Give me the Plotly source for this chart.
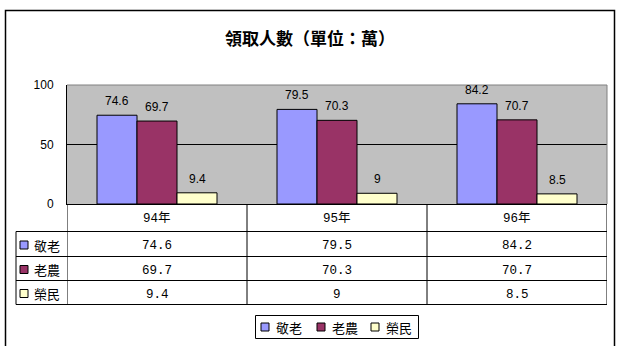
import plotly.graph_objects as go

# Data
years = ["94年", "95年", "96年"]
series_names = ["敬老", "老農", "榮民"]
jing_lao = [74.6, 79.5, 84.2]
lao_nong = [69.7, 70.3, 70.7]
rong_min = [9.4, 9, 8.5]
series_values = [jing_lao, lao_nong, rong_min]
colors = ["#9999FF", "#993366", "#FFFFCC"]
y_ticks = [0, 50, 100]
title_text = "領取人數（單位：萬）"

W, H = 617, 346
L, R, T, B = 67, 10, 85, 142
PW, PH = W - L - R, H - T - B


def px_x(px):
    return (px - L) / PW


def px_y(py):
    return (H - B - py) / PH


def fmt(v):
    return f"{v:g}"


fig = go.Figure()
for name, vals, col in zip(series_names, series_values, colors):
    fig.add_trace(go.Bar(
        x=years, y=vals, name=name,
        marker=dict(color=col, line=dict(color="black", width=1)),
        showlegend=False,
    ))

shapes = []
annotations = []

# value labels above bars
offsets = [-40, 0, 40]
for vals, dx in zip(series_values, offsets):
    for cat, v in zip(years, vals):
        annotations.append(dict(
            x=cat, y=v, xref="x", yref="y", text=fmt(v), showarrow=False,
            xshift=dx, yshift=5, xanchor="center", yanchor="bottom",
            font=dict(family="Liberation Sans, Arial", size=12, color="black"),
        ))

# gray plot-area border on top and right
shapes.append(dict(type="line", xref="paper", yref="paper", x0=0, x1=1, y0=1, y1=1,
                   line=dict(color="#808080", width=1), layer="above"))
shapes.append(dict(type="line", xref="paper", yref="paper", x0=1, x1=1, y0=0, y1=1,
                   line=dict(color="#808080", width=1), layer="above"))

# outer chart frame
shapes.append(dict(type="rect", xref="paper", yref="paper",
                   x0=px_x(5.5), x1=px_x(614.5), y0=px_y(360), y1=px_y(10.5),
                   line=dict(color="black", width=1.5), fillcolor="rgba(0,0,0,0)"))

# data table
row_edges = [204, 231.5, 256.5, 280.5, 304.5]
table_font = dict(family="Liberation Mono, Noto Sans CJK TC", size=12.5, color="black")
for i in range(len(years) + 1):
    xb = i - 0.5
    shapes.append(dict(type="line", xref="x", yref="paper", x0=xb, x1=xb,
                       y0=px_y(row_edges[-1]), y1=px_y(row_edges[0]),
                       line=dict(color="black", width=1)))
shapes.append(dict(type="line", xref="paper", yref="paper", x0=px_x(16), x1=px_x(16),
                   y0=px_y(row_edges[-1]), y1=px_y(row_edges[1]),
                   line=dict(color="black", width=1)))
for ry in row_edges[1:]:
    shapes.append(dict(type="line", xref="paper", yref="paper", x0=px_x(16), x1=1,
                       y0=px_y(ry), y1=px_y(ry), line=dict(color="black", width=1)))

for cat in years:
    annotations.append(dict(x=cat, y=px_y((row_edges[0] + row_edges[1]) / 2 + 1),
                            xref="x", yref="paper", text=cat, showarrow=False,
                            xanchor="center", yanchor="middle", font=table_font))

for r, (name, vals, col) in enumerate(zip(series_names, series_values, colors)):
    yc = (row_edges[r + 1] + row_edges[r + 2]) / 2 + 1
    shapes.append(dict(type="rect", xref="paper", yref="paper",
                       x0=px_x(20), x1=px_x(28), y0=px_y(yc + 4), y1=px_y(yc - 4),
                       fillcolor=col, line=dict(color="black", width=1)))
    annotations.append(dict(x=px_x(32), y=px_y(yc), xref="paper", yref="paper",
                            text=name, showarrow=False, xanchor="left", yanchor="middle",
                            font=dict(family="Noto Sans CJK TC", size=13, color="black")))
    for cat, v in zip(years, vals):
        annotations.append(dict(x=cat, y=px_y(yc + 1), xref="x", yref="paper",
                                text=fmt(v), showarrow=False, xanchor="center",
                                yanchor="middle", font=table_font))

# legend box
shapes.append(dict(type="rect", xref="paper", yref="paper",
                   x0=px_x(255.5), x1=px_x(418.5), y0=px_y(338.5), y1=px_y(315.5),
                   line=dict(color="black", width=1), fillcolor="white"))
key_x = [261, 317, 371]
ly = 327
for kx, name, col in zip(key_x, series_names, colors):
    shapes.append(dict(type="rect", xref="paper", yref="paper",
                       x0=px_x(kx), x1=px_x(kx + 8), y0=px_y(ly + 4), y1=px_y(ly - 4),
                       fillcolor=col, line=dict(color="black", width=1)))
    annotations.append(dict(x=px_x(kx + 13), y=px_y(ly), xref="paper", yref="paper",
                            text=name, showarrow=False, xanchor="left", yanchor="middle",
                            font=dict(family="Noto Sans CJK TC", size=13, color="black")))

# title
annotations.append(dict(x=px_x(310), y=px_y(37), xref="paper", yref="paper",
                        text="<b>" + title_text + "</b>", showarrow=False,
                        xanchor="center", yanchor="middle",
                        font=dict(family="Noto Sans CJK TC", size=17, color="black")))

fig.update_layout(
    width=W, height=H, autosize=False,
    margin=dict(l=L, r=R, t=T, b=B, pad=0),
    paper_bgcolor="white", plot_bgcolor="#C0C0C0",
    barmode="group", bargap=1 / 3, bargroupgap=0,
    shapes=shapes, annotations=annotations,
    showlegend=False,
)
fig.update_xaxes(showticklabels=False, ticks="", showgrid=False, zeroline=False,
                 showline=True, linecolor="black", linewidth=1,
                 range=[-0.5, 2.5], fixedrange=True)
fig.update_yaxes(range=[0, 100], tickvals=y_ticks, showgrid=True, gridcolor="black",
                 gridwidth=1, zeroline=False, showline=True, linecolor="black",
                 linewidth=1, ticks="", ticklabelstandoff=10,
                 tickfont=dict(family="Liberation Sans, Arial", size=12, color="black"))

fig.write_html("out.html")
